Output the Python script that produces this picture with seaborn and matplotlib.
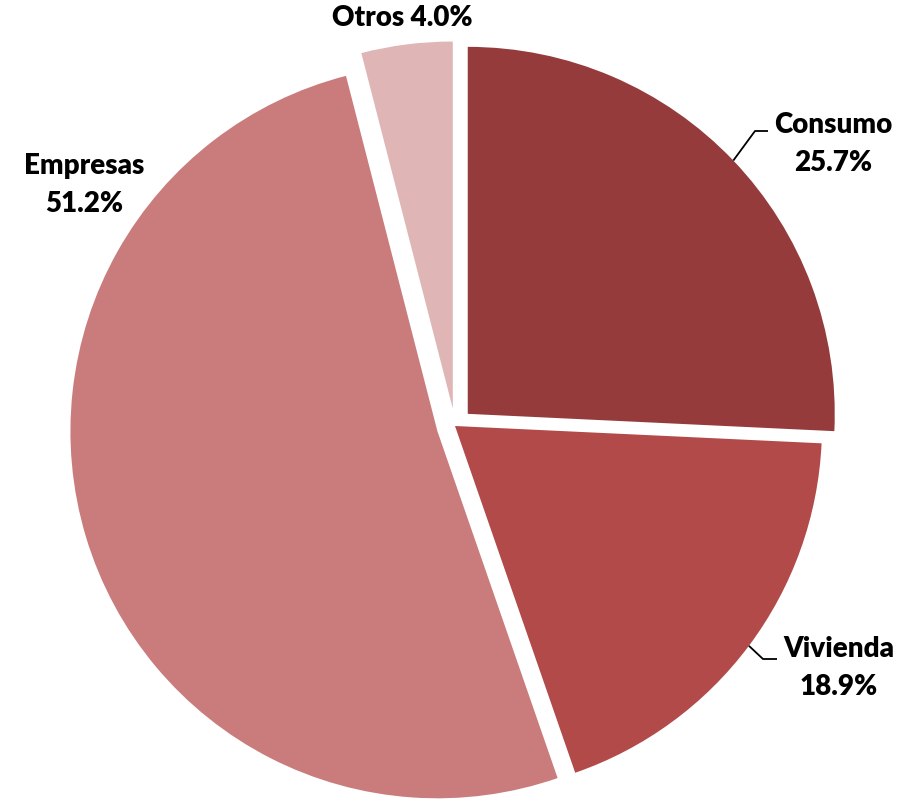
import numpy as np
import matplotlib
matplotlib.use("Agg")
import matplotlib.pyplot as plt
import seaborn as sns

# Loan portfolio composition (%)
categories = ["Consumo", "Vivienda", "Empresas", "Otros"]
shares = [25.7, 18.9, 51.2, 4.0]
colors = ["#953B3C", "#B24A4A", "#C97C7B", "#DFB5B5"]

sns.set_theme(style="white")
plt.rcParams["font.family"] = ["Lato", "DejaVu Sans"]

W, H = 914, 799
fig = plt.figure(figsize=(W / 100, H / 100), dpi=100)
ax = fig.add_axes([0, 0, 1, 1])

cx, cy, R = 455, H - 426, 367
# slice offsets from the centre, in the same units as the radius
explode = [0.048 * R, 0.0, 0.05 * R, 0.048 * R]

wedges, _ = ax.pie(
    shares, colors=colors, startangle=90, counterclock=False,
    explode=explode, center=(cx, cy), radius=R,
    wedgeprops=dict(linewidth=0), frame=True,
)
ax.set_xlim(0, W)
ax.set_ylim(0, H)
ax.set_aspect("equal")
ax.axis("off")

font = dict(fontsize=20, fontweight="heavy", color="black",
            ha="center", va="center", linespacing=1.55)


def label(i, x, y, elbow=None, end=None):
    text = f"{categories[i]}\n{shares[i]:.1f}%"
    ax.text(x, H - y, text, **font)
    if elbow is not None:
        w = wedges[i]
        mid = np.deg2rad((w.theta1 + w.theta2) / 2)
        wx, wy = w.center
        sx, sy = wx + w.r * np.cos(mid), wy + w.r * np.sin(mid)
        ax.plot([sx, elbow[0], end[0]], [sy, H - elbow[1], H - end[1]],
                color="black", lw=1.3, solid_capstyle="butt")


label(0, 833, 144, elbow=(755, 131), end=(768, 131))
label(1, 839, 668, elbow=(763, 659), end=(777, 659))
label(2, 84, 185)
ax.text(402, H - 18, f"{categories[3]} {shares[3]:.1f}%", **font)

fig.savefig("out.png", dpi=100)
